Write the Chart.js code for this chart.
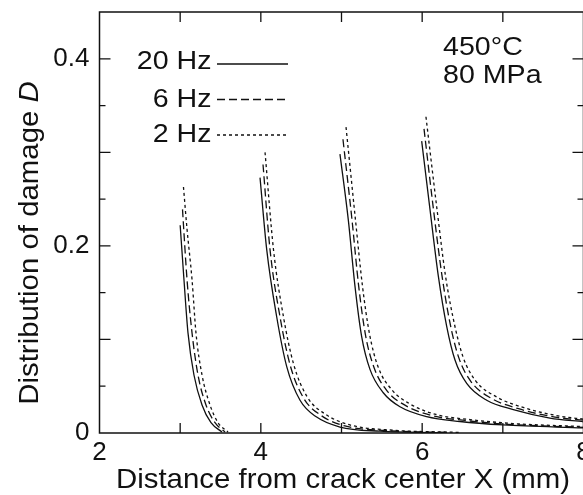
<!DOCTYPE html>
<html><head><meta charset="utf-8">
<script src="https://cdn.jsdelivr.net/npm/chart.js@4/dist/chart.umd.min.js"></script>
<style>html,body{margin:0;padding:0;background:#fff;overflow:hidden;width:583px;height:495px}canvas{display:block}</style>
</head><body>
<canvas id="c" width="600" height="495" style="width:600px;height:495px"></canvas>
<script>
// ---- axis settings / labels ----
const xRange = [2, 8];
const yRange = [0, 0.45];
const xLabelsShown = [2, 4, 6, 8];
const yLabelsShown = [0, 0.2, 0.4];
const seriesNames = ['20 Hz', '6 Hz', '2 Hz'];
const conditionText = ['450°C', '80 MPa'];

// ---- damage distributions [X (mm), D] ----
// crack tip near X = 3 mm
const tip3_20Hz = [[3.000,0.222],[3.047,0.164],[3.097,0.107],[3.171,0.062],[3.271,0.030],[3.382,0.011],[3.519,0.001]];
const tip3_6Hz  = [[3.029,0.239],[3.085,0.164],[3.147,0.107],[3.221,0.062],[3.320,0.030],[3.432,0.011],[3.556,0.001]];
const tip3_2Hz  = [[3.041,0.263],[3.085,0.218],[3.147,0.164],[3.196,0.107],[3.271,0.062],[3.370,0.030],[3.469,0.011],[3.593,0.001]];
// crack tip near X = 4 mm
const tip4_20Hz = [[3.990,0.273],[4.073,0.196],[4.197,0.124],[4.321,0.071],[4.486,0.035],[4.692,0.017],[4.981,0.0064],[5.477,0.0019],[6.221,0.0004]];
const tip4_6Hz  = [[4.027,0.287],[4.114,0.196],[4.238,0.124],[4.362,0.073],[4.529,0.0375],[4.746,0.0188],[5.043,0.0075],[5.539,0.0027],[6.345,0.0005]];
const tip4_2Hz  = [[4.052,0.300],[4.157,0.196],[4.281,0.124],[4.405,0.074],[4.572,0.039],[4.795,0.0204],[5.105,0.0086],[5.601,0.0032],[6.469,0.0006]];
// crack tip near X = 5 mm
const tip5_20Hz = [[4.981,0.298],[5.084,0.228],[5.167,0.157],[5.250,0.103],[5.353,0.068],[5.518,0.043],[5.725,0.028],[6.056,0.0175],[6.469,0.0123],[7.002,0.0086],[8.0,0.0054]];
const tip5_6Hz  = [[5.018,0.314],[5.130,0.228],[5.213,0.157],[5.297,0.105],[5.403,0.070],[5.570,0.0445],[5.781,0.030],[6.109,0.0188],[6.531,0.0134],[7.064,0.0093],[8.0,0.0061]];
const tip5_2Hz  = [[5.056,0.327],[5.173,0.228],[5.260,0.157],[5.347,0.106],[5.452,0.071],[5.626,0.046],[5.837,0.0316],[6.171,0.0198],[6.593,0.0143],[7.126,0.0101],[8.0,0.0069]];
// crack tip near X = 6 mm
const tip6_20Hz = [[5.994,0.312],[6.097,0.239],[6.200,0.168],[6.304,0.114],[6.407,0.078],[6.552,0.053],[6.800,0.035],[7.130,0.025],[7.584,0.016],[8.0,0.012]];
const tip6_6Hz  = [[6.023,0.325],[6.140,0.239],[6.246,0.168],[6.351,0.115],[6.456,0.080],[6.605,0.055],[6.859,0.037],[7.194,0.026],[7.646,0.017],[8.0,0.0136]];
const tip6_2Hz  = [[6.047,0.338],[6.184,0.239],[6.289,0.168],[6.401,0.116],[6.506,0.0815],[6.661,0.056],[6.921,0.0386],[7.262,0.027],[7.708,0.018],[8.0,0.0148]];

const curves = {
  '20 Hz': [tip3_20Hz, tip4_20Hz, tip5_20Hz, tip6_20Hz],
  '6 Hz':  [tip3_6Hz,  tip4_6Hz,  tip5_6Hz,  tip6_6Hz],
  '2 Hz':  [tip3_2Hz,  tip4_2Hz,  tip5_2Hz,  tip6_2Hz]
};
const dashes = {'20 Hz': [], '6 Hz': [8, 4], '2 Hz': [3, 3]};

const INK = '#111';
const FONT = '"Liberation Sans", Arial, Helvetica, sans-serif';

const datasets = [];
seriesNames.forEach(name => {
  curves[name].forEach(arr => {
    datasets.push({
      label: name,
      data: arr.map(([x, y]) => ({x, y})),
      showLine: true,
      borderColor: INK,
      borderWidth: 1.3,
      borderDash: dashes[name],
      pointRadius: 0,
      fill: false,
      cubicInterpolationMode: 'monotone'
    });
  });
});

function sText(ctx, text, x, y, size, align, sx, baseline) {
  ctx.save();
  ctx.translate(x, y);
  ctx.scale(sx, 1);
  ctx.font = size + 'px ' + FONT;
  ctx.textAlign = align;
  ctx.textBaseline = baseline || 'middle';
  ctx.fillStyle = INK;
  ctx.fillText(text, 0, 0);
  ctx.restore();
}

const decor = {
  id: 'decor',
  afterDraw(chart) {
    const {ctx, chartArea: a, scales: {x, y}} = chart;
    ctx.save();
    ctx.strokeStyle = INK;
    ctx.lineWidth = 1.5;
    ctx.strokeRect(a.left, a.top, a.right - a.left, a.bottom - a.top);
    ctx.lineWidth = 1.3;
    ctx.beginPath();
    x.ticks.forEach(t => {
      if (t.value <= x.min || t.value >= x.max) return;
      const px = x.getPixelForValue(t.value);
      ctx.moveTo(px, a.bottom); ctx.lineTo(px, a.bottom - 10);
      ctx.moveTo(px, a.top); ctx.lineTo(px, a.top + 10);
    });
    y.ticks.forEach(t => {
      if (t.value <= y.min + 1e-9 || t.value >= y.max - 1e-9) return;
      const py = y.getPixelForValue(t.value);
      const major = Math.abs(t.value * 10 - Math.round(t.value * 10)) < 1e-6;
      const L = major ? 11 : 6;
      ctx.moveTo(a.left, py); ctx.lineTo(a.left + L, py);
      ctx.moveTo(a.right, py); ctx.lineTo(a.right - L, py);
    });
    ctx.stroke();

    // legend
    const legendY = [62, 99.5, 135];
    seriesNames.forEach((name, i) => {
      sText(ctx, name, 211.5, legendY[i], 26, 'right', 1.1);
      ctx.save();
      ctx.strokeStyle = INK; ctx.lineWidth = 1.3;
      ctx.setLineDash(dashes[name]);
      ctx.beginPath();
      const ly = legendY[i] + (i === 0 ? 2 : 0);
      ctx.moveTo(217, ly);
      ctx.lineTo(288, ly);
      ctx.stroke();
      ctx.restore();
    });

    // condition text
    sText(ctx, conditionText[0], 443, 47.5, 26, 'left', 1.1);
    sText(ctx, conditionText[1], 443, 76, 26, 'left', 1.1);

    // x title
    sText(ctx, 'Distance from crack center X (mm)', 343, 488, 28, 'center', 1.05, 'alphabetic');

    // y title with italic D
    ctx.save();
    ctx.translate(38, 243);
    ctx.rotate(-Math.PI / 2);
    ctx.scale(1.05, 1);
    ctx.fillStyle = INK;
    ctx.textBaseline = 'alphabetic';
    ctx.textAlign = 'left';
    const part1 = 'Distribution of damage ';
    const f1 = '28px ' + FONT, f2 = 'italic 28px ' + FONT;
    ctx.font = f1; const w1 = ctx.measureText(part1).width;
    ctx.font = f2; const w2 = ctx.measureText('D').width;
    const start = -(w1 + w2) / 2;
    ctx.font = f1; ctx.fillText(part1, start, 0);
    ctx.font = f2; ctx.fillText('D', start + w1, 0);
    ctx.restore();
    ctx.restore();
  }
};

new Chart(document.getElementById('c'), {
  type: 'scatter',
  data: {datasets},
  plugins: [decor],
  options: {
    responsive: false,
    animation: false,
    layout: {padding: {left: 0, top: 12, right: 16.5, bottom: 0}},
    plugins: {legend: {display: false}, tooltip: {enabled: false}},
    scales: {
      x: {
        type: 'linear', min: xRange[0], max: xRange[1],
        grid: {display: false, drawTicks: false},
        border: {display: false},
        ticks: {
          stepSize: 1, autoSkip: false, maxRotation: 0, padding: 4,
          color: INK, font: {family: FONT, size: 26},
          callback: v => xLabelsShown.includes(v) ? String(v) : ''
        },
        afterFit: s => { s.height = 62; s.paddingLeft = 0; s.paddingRight = 0; }
      },
      y: {
        type: 'linear', min: yRange[0], max: yRange[1],
        grid: {display: false, drawTicks: false},
        border: {display: false},
        ticks: {
          stepSize: 0.05, autoSkip: false, padding: 10,
          color: INK, font: {family: FONT, size: 26},
          callback: v => {
            const m = yLabelsShown.find(l => Math.abs(l - v) < 1e-9);
            return m === undefined ? '' : (m === 0 ? '0' : m.toFixed(1));
          }
        },
        afterFit: s => { s.width = 99.5; s.paddingTop = 0; s.paddingBottom = 0; }
      }
    }
  }
});
</script>
</body></html>
